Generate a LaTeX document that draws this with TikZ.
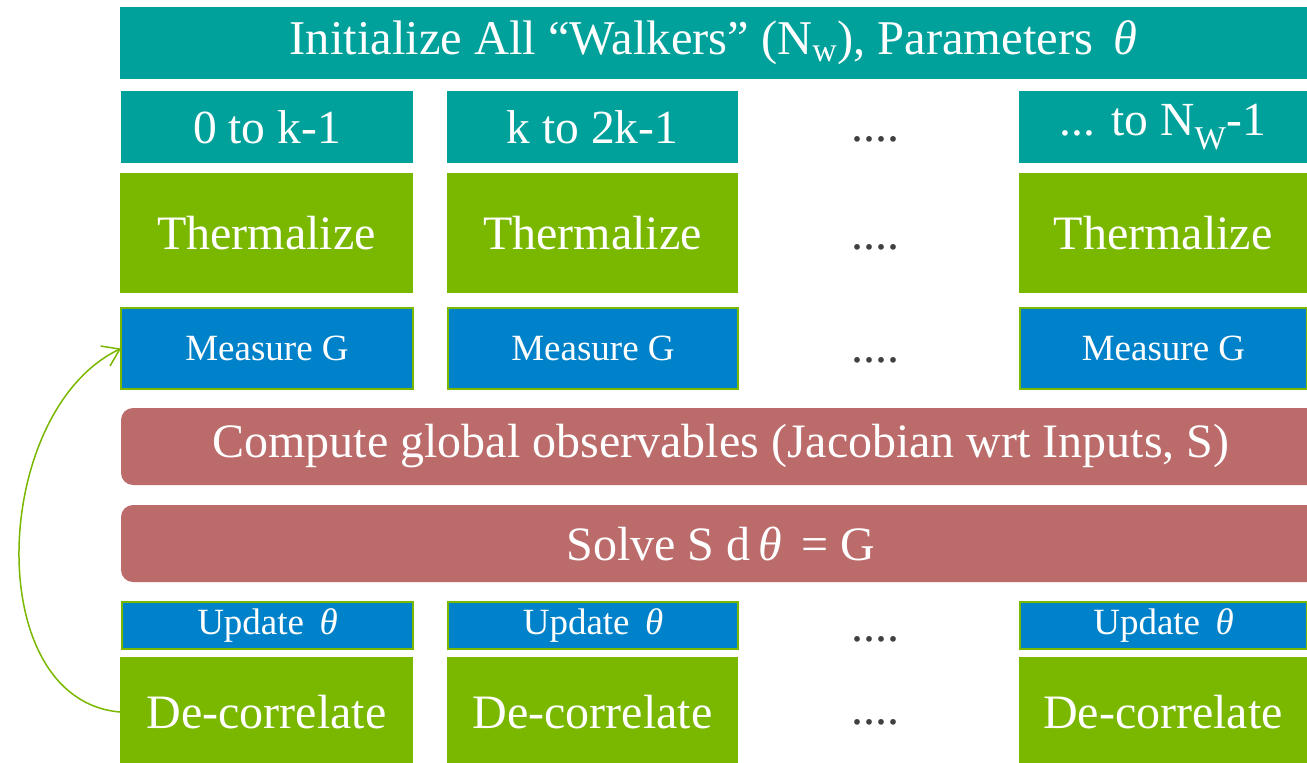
\documentclass[tikz,border=0pt]{standalone}
\usepackage{fontspec}
\setmainfont{Liberation Serif}
\newfontfamily\tnr{Liberation Serif}
\usetikzlibrary{arrows.meta}
\definecolor{tealc}{HTML}{00A19B}
\definecolor{greenc}{HTML}{7AB800}
\definecolor{bluec}{HTML}{0082CA}
\definecolor{redc}{HTML}{BC6B6B}
\definecolor{dotc}{HTML}{404040}
\newcommand{\fs}[1]{\tnr\fontsize{#1}{#1}\selectfont}
\newcommand{\thet}{\textit{θ}}
\begin{document}
\begin{tikzpicture}[x=1pt,y=-1pt,
  base/.style={anchor=north west, inner sep=0pt, outer sep=0pt, text=white, align=center},
  tealbox/.style={base, fill=tealc},
  greenbox/.style={base, fill=greenc},
  bluebox/.style={base, fill=bluec, draw=greenc, line width=1.5pt},
  redbox/.style={base, fill=redc, rounded corners=12pt},
  dots/.style={text=dotc, font=\fs{48}, anchor=base, inner sep=0pt},
  arr/.style={draw=greenc, line width=1.5pt, -{Straight Barb[length=16pt,width=22pt,line width=1.5pt]}}
]
\useasboundingbox (0,0) rectangle (1307,763);
% top bar
\node[tealbox, minimum width=1187pt, minimum height=72pt, font=\fs{48.5}] (init) at (120,7)
  {Initialize All “Walkers” (N\textsubscript{w}), Parameters \,\thet};
% row 2
\node[tealbox, minimum width=292pt, minimum height=72pt, font=\fs{47.5}] (r1) at (121,91) {0 to k-1};
\node[tealbox, minimum width=291pt, minimum height=72pt, font=\fs{47.5}] (r2) at (447,91) {k to 2k-1};
\node[dots] (d1) at (875,141) {....};
\node[tealbox, minimum width=288pt, minimum height=72pt, font=\fs{47.5}] (r4) at (1019,91) {... to N\textsubscript{W}-1};
% thermalize
\node[greenbox, minimum width=293pt, minimum height=120pt, font=\fs{48}] (t1) at (120,173) {Thermalize};
\node[greenbox, minimum width=291pt, minimum height=120pt, font=\fs{48}] (t2) at (447,173) {Thermalize};
\node[dots] (d2) at (875,249) {....};
\node[greenbox, minimum width=288pt, minimum height=120pt, font=\fs{48}] (t4) at (1019,173) {Thermalize};
% measure
\node[bluebox, minimum width=292pt, minimum height=81pt, font=\fs{37}] (m1) at (121,308) {Measure G};
\node[bluebox, minimum width=290pt, minimum height=81pt, font=\fs{37}] (m2) at (448,308) {Measure G};
\node[dots] (d3) at (875,362) {....};
\node[bluebox, minimum width=287pt, minimum height=81pt, font=\fs{37}] (m4) at (1020,308) {Measure G};
% compute / solve
\node[redbox, minimum width=1200pt, minimum height=77pt, font=\fs{48}] (comp) at (121,408)
  {Compute global observables (Jacobian wrt Inputs, S)};
\node[redbox, minimum width=1200pt, minimum height=77pt, font=\fs{48}] (solve) at (121,505)
  {Solve S d\,\thet\ \,= G};
% update
\node[bluebox, minimum width=291pt, minimum height=47pt, font=\fs{37}] (u1) at (122,602) {Update \,\thet};
\node[bluebox, minimum width=290pt, minimum height=47pt, font=\fs{37}] (u2) at (448,602) {Update \,\thet};
\node[dots] (d4) at (875,641) {....};
\node[bluebox, minimum width=287pt, minimum height=47pt, font=\fs{37}] (u4) at (1020,602) {Update \,\thet};
% de-correlate
\node[greenbox, minimum width=293pt, minimum height=110pt, font=\fs{48}] (c1) at (120,657) {De-correlate};
\node[greenbox, minimum width=291pt, minimum height=110pt, font=\fs{48}] (c2) at (447,657) {De-correlate};
\node[dots] (d5) at (875,724) {....};
\node[greenbox, minimum width=288pt, minimum height=110pt, font=\fs{48}] (c4) at (1019,657) {De-correlate};
% loop arrow
\draw[arr] (c1.west) .. controls +(-140,-12) and +(-130,62) .. (m1.west);
\end{tikzpicture}
\end{document}
